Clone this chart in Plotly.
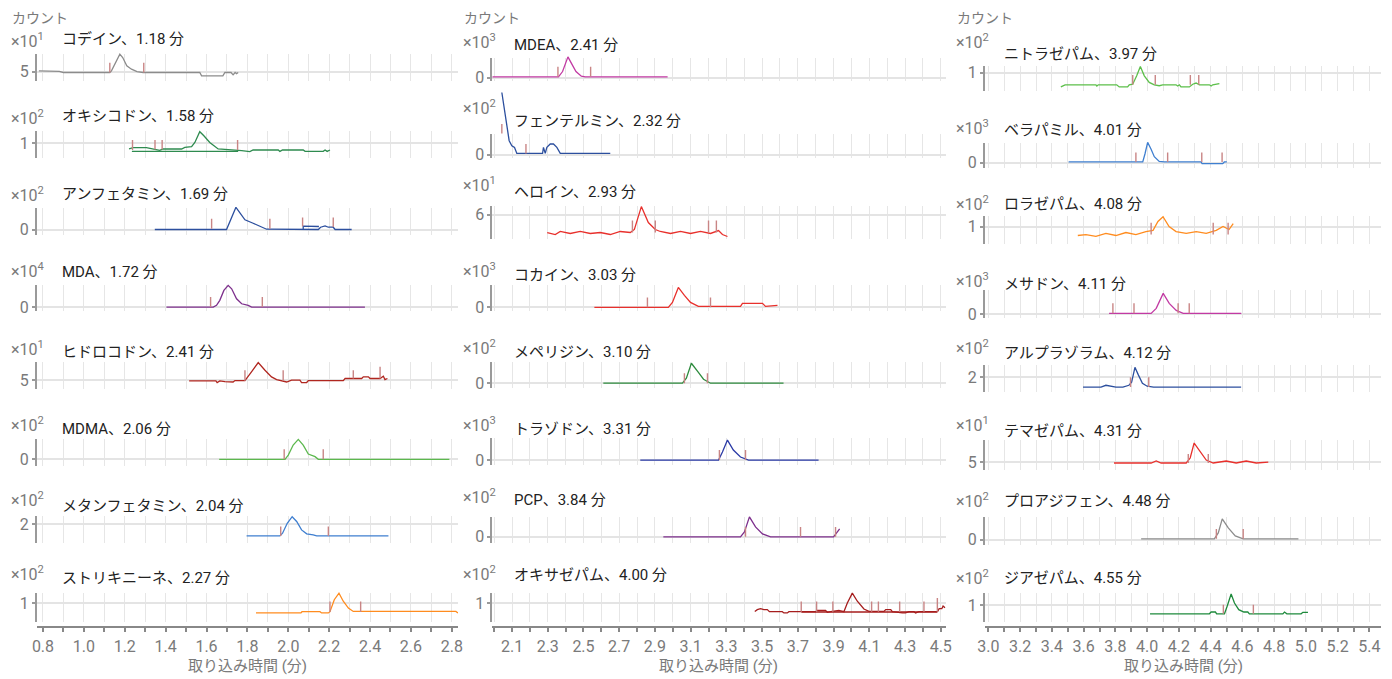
import plotly.graph_objects as go

# measured mapping of this page -> screenshot (screen = O + S * page); inverted below
SX, OX, SY, OY = 0.9895, 7.4, 0.989, 1.0
W, H = 1400, 688

# ---------------- data ----------------
names = ["コデイン", "オキシコドン", "アンフェタミン", "MDA", "ヒドロコドン", "MDMA", "メタンフェタミン", "ストリキニーネ",
         "MDEA", "フェンテルミン", "ヘロイン", "コカイン", "メペリジン", "トラゾドン", "PCP", "オキサゼパム",
         "ニトラゼパム", "ベラパミル", "ロラゼパム", "メサドン", "アルプラゾラム", "テマゼパム", "プロアジフェン", "ジアゼパム"]
rt_labels = ["1.18", "1.58", "1.69", "1.72", "2.41", "2.06", "2.04", "2.27",
             "2.41", "2.32", "2.93", "3.03", "3.10", "3.31", "3.84", "4.00",
             "3.97", "4.01", "4.08", "4.11", "4.12", "4.31", "4.48", "4.55"]
exponents = [1, 2, 2, 4, 1, 2, 2, 2,
             3, 2, 1, 3, 2, 3, 2, 2,
             2, 3, 2, 3, 2, 1, 2, 2]
tick_values = [5, 1, 0, 0, 5, 0, 2, 1,
               0, 0, 6, 0, 0, 0, 0, 1,
               1, 0, 1, 0, 2, 5, 0, 1]

codeine_t = [0.78, 0.85, 0.87, 0.88, 0.90, 1.127, 1.135, 1.176, 1.19, 1.21, 1.233, 1.26, 1.29, 1.567, 1.576, 1.68, 1.69, 1.72, 1.73, 1.74, 1.747, 1.755]
codeine_y = [5.1, 5.03, 4.98, 5.05, 4.93, 4.93, 5.11, 6.97, 6.59, 5.67, 5.3, 5.03, 4.93, 4.93, 4.56, 4.56, 4.93, 4.93, 4.67, 4.93, 4.8, 4.93]
codeine_marks = [1.127, 1.293]
codeine_mlo = [4.93, 4.93]
codeine_mhi = [6.0, 6.0]

oxycodone_t = [1.221, 1.241, 1.306, 1.347, 1.371, 1.388, 1.478, 1.494, 1.527, 1.543, 1.567, 1.587, 1.616, 1.657, 1.755, 1.772, 1.812, 1.828, 1.951, 1.959, 1.972, 2.073, 2.082, 2.171, 2.18, 2.19, 2.204]
oxycodone_y = [0.813, 0.857, 0.857, 0.813, 0.767, 0.813, 0.813, 0.867, 0.89, 1.033, 1.39, 1.257, 1.033, 0.813, 0.78, 0.757, 0.723, 0.78, 0.78, 0.733, 0.78, 0.78, 0.733, 0.733, 0.78, 0.733, 0.78]
oxycodone_marks = [1.238, 1.348, 1.383, 1.752]
oxycodone_mlo = [0.78, 0.8, 0.8, 0.78]
oxycodone_mhi = [1.11, 1.11, 1.11, 1.11]
oxycodone_base_t = [1.235, 1.755]
oxycodone_base_y = [0.733, 0.733]

amphetamine_t = [1.347, 1.698, 1.744, 1.763, 1.788, 1.828, 1.861, 1.894, 2.147, 2.158, 2.18, 2.196, 2.22, 2.229, 2.31]
amphetamine_y = [0, 0, 2.23, 1.73, 0.97, 0.63, 0.3, 0.03, 0, 0.23, 0.37, 0.23, 0.23, 0, 0]
amphetamine_marks = [1.625, 1.91, 2.07, 2.22]
amphetamine_mlo = [0.07, 0.07, 0.3, 0.25]
amphetamine_mhi = [1.07, 1.07, 1.2, 1.2]
amphetamine_base_t = [2.073, 2.073, 2.15]
amphetamine_base_y = [0.0, 0.33, 0.3]

mda_t = [1.404, 1.633, 1.649, 1.665, 1.685, 1.706, 1.723, 1.747, 1.772, 1.804, 1.821, 2.375]
mda_y = [0, 0, 0.17, 0.67, 1.67, 2.17, 1.83, 0.83, 0.33, 0.17, 0, 0]
mda_marks = [1.62, 1.873]
mda_mlo = [0, 0]
mda_mhi = [1.0, 1.0]

hydrocodone_t = [1.515, 1.646, 1.652, 1.665, 1.69, 1.73, 1.739, 1.788, 1.82, 1.853, 1.886, 1.918, 1.943, 1.975, 1.992, 2.016, 2.057, 2.065, 2.09, 2.098, 2.269, 2.278, 2.359, 2.367, 2.392, 2.4, 2.449, 2.465, 2.473, 2.485]
hydrocodone_y = [4.93, 4.93, 4.74, 4.93, 4.85, 4.8, 4.96, 4.96, 5.93, 6.96, 6.11, 5.37, 5.07, 4.93, 4.8, 5.0, 5.0, 4.74, 4.74, 4.96, 4.96, 5.19, 5.19, 5.37, 5.37, 5.19, 5.19, 5.44, 5.07, 5.19]
hydrocodone_marks = [1.788, 1.975, 2.318, 2.449]
hydrocodone_mlo = [4.93, 4.93, 5.19, 5.19]
hydrocodone_mhi = [6.1, 6.1, 6.1, 6.5]

mdma_t = [1.662, 1.984, 2.0, 2.024, 2.049, 2.073, 2.098, 2.131, 2.147, 2.788]
mdma_y = [0, 0, 0.43, 1.43, 2.0, 1.43, 0.53, 0.27, 0, 0]
mdma_marks = [1.98, 2.171]
mdma_mlo = [0, 0]
mdma_mhi = [1.0, 1.0]

methamphetamine_t = [1.796, 1.959, 1.972, 1.995, 2.019, 2.041, 2.065, 2.09, 2.122, 2.139, 2.49]
methamphetamine_y = [1.61, 1.61, 1.7, 2.03, 2.25, 2.09, 1.81, 1.68, 1.64, 1.61, 1.61]
methamphetamine_marks = [1.963, 2.196]
methamphetamine_mlo = [1.61, 1.61]
methamphetamine_mhi = [1.92, 1.92]

strychnine_t = [1.842, 2.062, 2.067, 2.155, 2.163, 2.196, 2.204, 2.225, 2.248, 2.269, 2.294, 2.318, 2.82, 2.83]
strychnine_y = [0.67, 0.67, 0.71, 0.71, 0.67, 0.67, 0.71, 1.11, 1.33, 1.06, 0.83, 0.72, 0.72, 0.67]
strychnine_marks = [2.204, 2.354]
strychnine_mlo = [0.7, 0.7]
strychnine_mhi = [1.05, 1.05]

mdea_t = [1.99, 2.36, 2.383, 2.413, 2.435, 2.458, 2.488, 2.51, 2.971]
mdea_y = [0.1, 0.1, 0.63, 2.1, 1.37, 0.63, 0.17, 0.1, 0.1]
mdea_marks = [2.357, 2.54]
mdea_mlo = [0.1, 0.1]
mdea_mhi = [1.1, 1.1]

phentermine_t = [2.043, 2.058, 2.071, 2.084, 2.099, 2.114, 2.127, 2.271, 2.276, 2.286, 2.295, 2.314, 2.332, 2.351, 2.37, 2.65]
phentermine_y = [6.23, 4.4, 2.73, 1.4, 0.9, 0.73, 0.13, 0.13, 0.73, 0.13, 0.73, 1.07, 1.07, 0.73, 0.13, 0.13]
phentermine_marks = [2.043, 2.178]
phentermine_mlo = [2.13, 0.13]
phentermine_mhi = [3.07, 1.07]

heroin_t = [2.297, 2.342, 2.37, 2.426, 2.482, 2.538, 2.594, 2.65, 2.706, 2.762, 2.785, 2.824, 2.863, 2.902, 2.93, 2.987, 3.043, 3.099, 3.155, 3.211, 3.256, 3.278, 3.306]
heroin_y = [3.75, 3.5, 3.88, 3.63, 3.88, 3.63, 3.75, 3.5, 3.88, 3.75, 4.13, 7.0, 5.0, 4.13, 3.88, 3.63, 3.88, 3.63, 3.88, 3.63, 4.0, 3.5, 3.25]
heroin_marks = [2.774, 2.902, 3.2, 3.244]
heroin_mlo = [3.75, 3.75, 3.75, 3.75]
heroin_mhi = [5.25, 5.25, 5.25, 5.25]

cocaine_t = [2.561, 2.975, 2.998, 3.031, 3.065, 3.099, 3.143, 3.379, 3.39, 3.502, 3.519, 3.586]
cocaine_y = [0, 0, 0.5, 2.0, 1.2, 0.5, 0.1, 0.1, 0.4, 0.4, 0.1, 0.2]
cocaine_marks = [2.858, 3.211]
cocaine_mlo = [0, 0]
cocaine_mhi = [1.0, 1.0]

meperidine_t = [2.611, 3.054, 3.076, 3.104, 3.138, 3.172, 3.211, 3.62]
meperidine_y = [0, 0, 0.5, 2.0, 1.2, 0.4, 0, 0]
meperidine_marks = [3.065, 3.194]
meperidine_mlo = [0, 0]
meperidine_mhi = [1.0, 1.0]

trazodone_t = [2.818, 3.256, 3.278, 3.306, 3.339, 3.379, 3.424, 3.816]
trazodone_y = [0, 0, 0.8, 2.0, 1.0, 0.3, 0, 0]
trazodone_marks = [3.261, 3.407]
trazodone_mlo = [0, 0]
trazodone_mhi = [1.0, 1.0]

pcp_t = [2.947, 3.379, 3.401, 3.429, 3.463, 3.502, 3.547, 3.9, 3.917, 3.934]
pcp_y = [0, 0, 0.5, 2.0, 1.0, 0.3, 0, 0, 0.4, 0.8]
pcp_marks = [3.407, 3.715, 3.911]
pcp_mlo = [0, 0, 0]
pcp_mhi = [1.0, 1.0, 1.0]

oxazepam_t = [3.459, 3.473, 3.491, 3.51, 3.529, 3.541, 3.613, 3.622, 3.641, 3.65, 3.799, 3.809, 3.855, 3.865, 3.883, 3.93, 3.958, 3.977, 4.005, 4.033, 4.07, 4.098, 4.182, 4.192, 4.22, 4.229, 4.285, 4.303, 4.322, 4.35, 4.359, 4.378, 4.482, 4.491, 4.506, 4.513, 4.524]
oxazepam_y = [0.72, 0.78, 0.81, 0.78, 0.78, 0.71, 0.71, 0.67, 0.67, 0.71, 0.71, 0.75, 0.75, 0.69, 0.71, 0.75, 0.71, 1.0, 1.33, 1.06, 0.8, 0.72, 0.72, 0.78, 0.78, 0.71, 0.67, 0.67, 0.71, 0.71, 0.67, 0.71, 0.71, 0.81, 0.81, 0.9, 0.84]
oxazepam_marks = [3.719, 3.805, 3.896, 4.113, 4.151, 4.27, 4.406, 4.481]
oxazepam_mlo = [0.71, 0.71, 0.71, 0.71, 0.71, 0.71, 0.71, 0.71]
oxazepam_mhi = [1.05, 1.05, 1.05, 1.05, 1.05, 1.05, 1.05, 1.17]
oxazepam_base_t = [3.72, 4.48]
oxazepam_base_y = [0.7, 0.7]

nitrazepam_t = [3.456, 3.483, 3.677, 3.683, 3.692, 3.808, 3.824, 3.877, 3.887, 3.909, 3.934, 3.957, 3.982, 4.013, 4.045, 4.076, 4.098, 4.182, 4.192, 4.203, 4.213, 4.266, 4.287, 4.308, 4.329, 4.392, 4.403, 4.413, 4.455]
nitrazepam_y = [0.53, 0.6, 0.6, 0.56, 0.6, 0.6, 0.53, 0.53, 0.6, 0.62, 0.9, 1.21, 0.9, 0.68, 0.6, 0.57, 0.6, 0.6, 0.56, 0.6, 0.53, 0.53, 0.62, 0.66, 0.6, 0.6, 0.56, 0.6, 0.64]
nitrazepam_marks = [3.909, 4.051, 4.272, 4.325]
nitrazepam_mlo = [0.6, 0.6, 0.6, 0.6]
nitrazepam_mhi = [0.93, 0.93, 0.93, 0.93]

verapamil_t = [3.505, 3.972, 3.986, 4.003, 4.024, 4.045, 4.076, 4.108, 4.339, 4.346, 4.476, 4.486, 4.502]
verapamil_y = [0.07, 0.07, 0.87, 2.03, 1.37, 0.6, 0.13, 0.07, 0.07, -0.1, -0.1, 0.07, 0.07]
verapamil_marks = [3.929, 4.129, 4.344, 4.472]
verapamil_mlo = [0.07, 0.07, 0.07, 0.07]
verapamil_mhi = [1.03, 1.03, 1.03, 1.03]

lorazepam_t = [3.563, 3.614, 3.677, 3.74, 3.803, 3.866, 3.929, 3.992, 4.037, 4.068, 4.1, 4.138, 4.182, 4.246, 4.309, 4.372, 4.435, 4.478, 4.516, 4.542]
lorazepam_y = [0.7, 0.73, 0.67, 0.77, 0.7, 0.8, 0.73, 0.83, 0.87, 1.17, 1.33, 1.0, 0.83, 0.77, 0.83, 0.77, 0.87, 1.0, 0.9, 1.1]
lorazepam_marks = [4.025, 4.416, 4.51]
lorazepam_mlo = [0.73, 0.73, 0.73]
lorazepam_mhi = [1.13, 1.13, 1.13]

methadone_t = [3.76, 4.025, 4.057, 4.101, 4.139, 4.183, 4.227, 4.593]
methadone_y = [0.1, 0.1, 0.6, 2.1, 1.1, 0.4, 0.1, 0.1]
methadone_marks = [3.784, 3.917, 4.195, 4.265]
methadone_mlo = [0.1, 0.1, 0.1, 0.1]
methadone_mhi = [1.1, 1.1, 1.1, 1.1]

alprazolam_t = [3.596, 3.709, 3.74, 3.77, 3.803, 3.847, 3.885, 3.902, 3.923, 3.945, 3.97, 4.0, 4.04, 4.592]
alprazolam_y = [1.67, 1.67, 1.73, 1.7, 1.67, 1.67, 1.73, 1.83, 2.33, 2.07, 1.8, 1.7, 1.67, 1.67]
alprazolam_marks = [3.895, 4.01]
alprazolam_mlo = [1.67, 1.67]
alprazolam_mhi = [2.0, 2.0]

temazepam_t = [3.791, 4.025, 4.057, 4.088, 4.246, 4.271, 4.296, 4.334, 4.372, 4.416, 4.498, 4.561, 4.624, 4.687, 4.763]
temazepam_y = [4.88, 4.88, 5.13, 4.88, 4.88, 5.5, 7.38, 6.25, 5.25, 4.88, 5.13, 4.88, 5.13, 4.88, 5.0]
temazepam_marks = [4.259, 4.385]
temazepam_mlo = [4.88, 4.88]
temazepam_mhi = [6.0, 6.0]

proadifen_t = [3.962, 4.423, 4.448, 4.473, 4.511, 4.555, 4.605, 4.953]
proadifen_y = [0.1, 0.1, 0.7, 2.1, 1.2, 0.4, 0.1, 0.1]
proadifen_marks = [4.436, 4.605]
proadifen_mlo = [0.1, 0.1]
proadifen_mhi = [1.1, 1.1]

diazepam_t = [4.018, 4.392, 4.403, 4.43, 4.438, 4.487, 4.504, 4.529, 4.55, 4.577, 4.609, 4.634, 4.644, 4.855, 4.865, 4.88, 4.97, 4.981, 5.013]
diazepam_y = [0.72, 0.72, 0.78, 0.78, 0.72, 0.72, 0.97, 1.38, 1.08, 0.86, 0.78, 0.78, 0.72, 0.72, 0.78, 0.72, 0.72, 0.77, 0.77]
diazepam_marks = [4.48, 4.669]
diazepam_mlo = [0.72, 0.72]
diazepam_mhi = [1.02, 1.02]

series_t = [codeine_t, oxycodone_t, amphetamine_t, mda_t, hydrocodone_t, mdma_t, methamphetamine_t, strychnine_t,
            mdea_t, phentermine_t, heroin_t, cocaine_t, meperidine_t, trazodone_t, pcp_t, oxazepam_t,
            nitrazepam_t, verapamil_t, lorazepam_t, methadone_t, alprazolam_t, temazepam_t, proadifen_t, diazepam_t]
series_y = [codeine_y, oxycodone_y, amphetamine_y, mda_y, hydrocodone_y, mdma_y, methamphetamine_y, strychnine_y,
            mdea_y, phentermine_y, heroin_y, cocaine_y, meperidine_y, trazodone_y, pcp_y, oxazepam_y,
            nitrazepam_y, verapamil_y, lorazepam_y, methadone_y, alprazolam_y, temazepam_y, proadifen_y, diazepam_y]
marks_t = [codeine_marks, oxycodone_marks, amphetamine_marks, mda_marks, hydrocodone_marks, mdma_marks, methamphetamine_marks, strychnine_marks,
           mdea_marks, phentermine_marks, heroin_marks, cocaine_marks, meperidine_marks, trazodone_marks, pcp_marks, oxazepam_marks,
           nitrazepam_marks, verapamil_marks, lorazepam_marks, methadone_marks, alprazolam_marks, temazepam_marks, proadifen_marks, diazepam_marks]
marks_lo = [codeine_mlo, oxycodone_mlo, amphetamine_mlo, mda_mlo, hydrocodone_mlo, mdma_mlo, methamphetamine_mlo, strychnine_mlo,
            mdea_mlo, phentermine_mlo, heroin_mlo, cocaine_mlo, meperidine_mlo, trazodone_mlo, pcp_mlo, oxazepam_mlo,
            nitrazepam_mlo, verapamil_mlo, lorazepam_mlo, methadone_mlo, alprazolam_mlo, temazepam_mlo, proadifen_mlo, diazepam_mlo]
marks_hi = [codeine_mhi, oxycodone_mhi, amphetamine_mhi, mda_mhi, hydrocodone_mhi, mdma_mhi, methamphetamine_mhi, strychnine_mhi,
            mdea_mhi, phentermine_mhi, heroin_mhi, cocaine_mhi, meperidine_mhi, trazodone_mhi, pcp_mhi, oxazepam_mhi,
            nitrazepam_mhi, verapamil_mhi, lorazepam_mhi, methadone_mhi, alprazolam_mhi, temazepam_mhi, proadifen_mhi, diazepam_mhi]
baselines = {1: (oxycodone_base_t, oxycodone_base_y), 2: (amphetamine_base_t, amphetamine_base_y),
             15: (oxazepam_base_t, oxazepam_base_y)}

# ---------------- styles / layout ----------------
colors = ["#8c8c8c", "#2e8b4f", "#2c4f9e", "#7d2f8c", "#b0261f", "#5cb84e", "#3f7fd0", "#ff8c1f",
          "#c23aa3", "#2c4f9e", "#e8302c", "#e8302c", "#2e8b3e", "#2a3aa6", "#7d2f8c", "#a61d1d",
          "#5cbf4a", "#3f7fd0", "#ff8c1f", "#c23aa3", "#2c4f9e", "#e8302c", "#8c8c8c", "#1e8a3c"]
mark_color = "#c98585"
grid_color = "#e6e6e6"
axis_gray = "#9a9a9a"
label_gray = "#7a7a7a"

# target screenshot-pixel geometry (converted to figure paper coordinates below)
col_px = [(37, 458), (492, 945), (984, 1380)]
col_xrange = [(0.769, 2.831), (1.989, 4.528), (2.977, 5.475)]
col_tick0 = [0.8, 2.1, 3.0]
col_minor0 = [0.8, 2.0, 3.0]
panel_top = [[53, 130, 207, 285, 362, 439, 516, 593],
             [57, 133, 205, 285, 362, 438, 517, 593],
             [65, 142, 215, 290, 365, 440, 517, 593]]
panel_bot = [[80, 157, 234, 311, 389, 466, 543, 622],
             [80, 157, 238, 311, 388, 465, 543, 622],
             [90, 167, 244, 318, 392, 470, 545, 622]]
y_ranges = [(4.0, 7.0), (0.523, 1.423), (-0.5, 2.2), (-0.43, 2.17), (4.0, 7.0), (-0.67, 2.03), (1.377, 2.277), (0.377, 1.343),
            (-0.3, 2.0), (-0.3, 2.1), (3.0, 7.125), (-0.4, 2.2), (-0.5, 2.1), (-0.5, 2.2), (-0.6, 2.0), (0.377, 1.343),
            (0.4, 1.233), (-0.5, 2.0), (0.4, 1.367), (-0.4, 2.4), (1.5, 2.4), (4.0, 7.75), (-0.5, 2.3), (0.457, 1.423)]
title_y = [[38, 115, 193, 272, 352, 429, 506, 578],
           [44, 120, 191, 275, 352, 429, 500, 575],
           [53, 129, 203, 284, 353, 431, 501, 578]]
exp_y = [[40, 117, 194, 270, 348, 424, 500, 574],
         [41, 107, 184, 270, 347, 424, 497, 574],
         [41, 127, 203, 280, 347, 424, 501, 578]]
title_x = [60, 512, 1001]
exp_x = [9, 461, 953]
bottom_axis_px = 627
PAD_T, PAD_B = 42, 6   # extra room above / below each panel for the data layer


def fx(px):
    return ((px - OX) / SX) / W


def fy(py):
    return 1 - ((py - OY) / SY) / H


FONT = "Roboto, 'Noto Sans CJK JP', 'Noto Sans', sans-serif"

fig = go.Figure()
layout = {}
annotations = []

for i in range(24):
    c, r = divmod(i, 8)
    k = i + 1
    xs = "" if k == 1 else str(k)
    ds = str(k + 24)
    xname, yname = "x" + xs, "y" + xs
    dx, dy = "x" + ds, "y" + ds
    x0, x1 = col_px[c]
    top, bot = panel_top[c][r], panel_bot[c][r]
    is_bottom = (r == 7)

    fig.add_trace(go.Scatter(x=series_t[i], y=series_y[i], mode="lines",
                             line=dict(color=colors[i], width=1.3),
                             xaxis=dx, yaxis=dy, hoverinfo="skip", showlegend=False))
    if i in baselines:
        bt, by = baselines[i]
        fig.add_trace(go.Scatter(x=bt, y=by, mode="lines",
                                 line=dict(color=colors[i], width=1.3),
                                 xaxis=dx, yaxis=dy, hoverinfo="skip", showlegend=False))
    mx, my = [], []
    for t, lo, hi in zip(marks_t[i], marks_lo[i], marks_hi[i]):
        mx += [t, t, None]
        my += [lo, hi, None]
    fig.add_trace(go.Scatter(x=mx, y=my, mode="lines",
                             line=dict(color=mark_color, width=1.4),
                             xaxis=dx, yaxis=dy, hoverinfo="skip", showlegend=False))
    fig.add_trace(go.Scatter(x=[], y=[], mode="lines", xaxis=xname, yaxis=yname,
                             hoverinfo="skip", showlegend=False))

    xa = dict(domain=[fx(x0), fx(x1)], range=list(col_xrange[c]),
              tick0=col_tick0[c], dtick=0.2, tickformat=".1f",
              showgrid=True, gridcolor=grid_color, gridwidth=1,
              zeroline=False, showticklabels=is_bottom,
              minor=dict(tick0=col_minor0[c], dtick=0.1, showgrid=True, gridcolor=grid_color, gridwidth=1,
                         ticks="outside" if is_bottom else "", ticklen=5, tickcolor="#888", tickwidth=1.5),
              ticks="outside" if is_bottom else "", ticklen=5, tickcolor="#888", tickwidth=1.5,
              showline=is_bottom, linecolor="#888", linewidth=1.5,
              tickfont=dict(size=16, color=label_gray, family=FONT))
    if is_bottom:
        xa.update(anchor="free", position=fy(bottom_axis_px))
    else:
        xa.update(anchor=yname)
    layout["xaxis" + xs] = xa

    tv = tick_values[i]
    y0, y1 = y_ranges[i]
    layout["yaxis" + xs] = dict(domain=[fy(bot), fy(top)], range=[y0, y1], anchor=xname,
                                tickvals=[tv], ticktext=[str(tv)], showgrid=True, gridcolor="#e4e4e4", gridwidth=1.5,
                                zeroline=False, showline=True, linecolor=axis_gray, linewidth=1.5,
                                ticks="outside", ticklen=3, tickcolor=axis_gray, tickwidth=1.5,
                                tickfont=dict(size=16, color=label_gray, family=FONT))

    s = (y1 - y0) / (bot - top)
    layout["xaxis" + ds] = dict(domain=[fx(x0), fx(x1)], range=list(col_xrange[c]), anchor=dy, visible=False)
    layout["yaxis" + ds] = dict(domain=[fy(bot + PAD_B), fy(top - PAD_T)],
                                range=[y0 - PAD_B * s, y1 + PAD_T * s], anchor=dx, visible=False)

    annotations.append(dict(text=f"{names[i]}、{rt_labels[i]} 分", xref="paper", yref="paper",
                            x=fx(title_x[c]), y=fy(title_y[c][r]), xanchor="left", yanchor="middle",
                            showarrow=False, font=dict(size=15, color="#222", family=FONT)))
    annotations.append(dict(text=f"×10<sup>{exponents[i]}</sup>", xref="paper", yref="paper",
                            x=fx(exp_x[c]), y=fy(exp_y[c][r]), xanchor="left", yanchor="middle",
                            showarrow=False, font=dict(size=16, color=label_gray, family=FONT)))

for c in range(3):
    annotations.append(dict(text="カウント", xref="paper", yref="paper",
                            x=fx(exp_x[c] + 1), y=fy(17), xanchor="left", yanchor="middle",
                            showarrow=False, font=dict(size=14, color=label_gray, family=FONT)))
    annotations.append(dict(text="取り込み時間 (分)", xref="paper", yref="paper",
                            x=fx((col_px[c][0] + col_px[c][1]) / 2), y=fy(666), xanchor="center", yanchor="middle",
                            showarrow=False, font=dict(size=15, color=label_gray, family=FONT)))

layout.update(width=W, height=H, margin=dict(l=0, r=0, t=0, b=0),
              paper_bgcolor="white", plot_bgcolor="rgba(0,0,0,0)",
              font=dict(family=FONT), annotations=annotations, showlegend=False)
fig.update_layout(**layout)
fig.write_html("out.html", config={"displayModeBar": False},
               post_script="document.body.style.margin='0';document.body.style.overflow='hidden';")
